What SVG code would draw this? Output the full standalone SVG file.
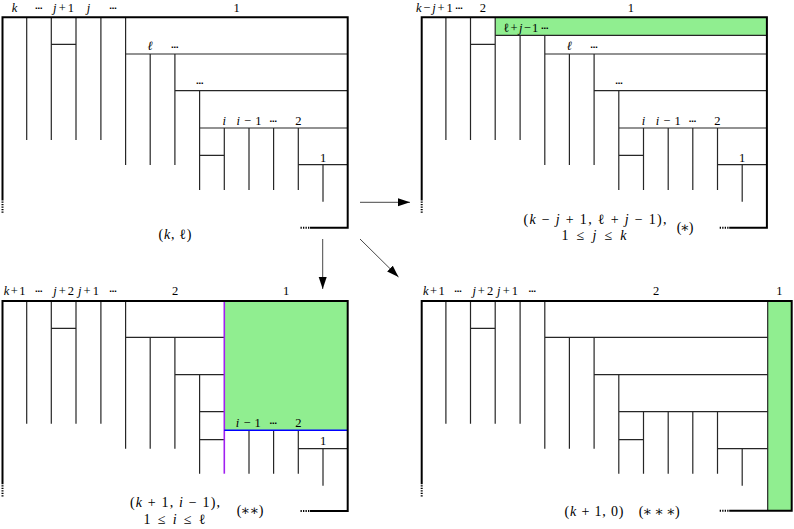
<svg xmlns="http://www.w3.org/2000/svg" width="794" height="529" viewBox="0 0 794 529">
<defs>
<style>
.thick{fill:none;stroke:#000;stroke-width:2;stroke-linejoin:miter}
.thin{fill:none;stroke:#262626;stroke-width:1.2}
.dot{fill:none;stroke:#000;stroke-width:2;stroke-dasharray:1.3 1.2}
.green{fill:#90ee90;stroke:none}
.t{font-family:"Liberation Serif","DejaVu Serif",serif;font-size:12.5px;text-anchor:middle;fill:#000}
.c{font-family:"Liberation Serif","DejaVu Serif",serif;font-size:14px;text-anchor:middle;fill:#000}
.i{font-style:italic}
.d{font-family:"DejaVu Sans",sans-serif;font-weight:bold;font-size:8px;text-anchor:middle;fill:#000}
.arr{fill:none;stroke:#333;stroke-width:0.9}
</style>
<marker id="ah" markerUnits="userSpaceOnUse" markerWidth="13" markerHeight="9" refX="12" refY="4" orient="auto">
<path d="M0,0 L12,4 L0,8 z" fill="#000"/>
</marker>
</defs>
<rect width="794" height="529" fill="#fff"/>

<g id="node-k-l">
<path class="thin" d="M26.7,17.3V140 M51.3,17.3V140 M76,17.3V140 M100.9,17.3V140 M51.3,44.3H76 M125.6,17.3V165 M125.6,54H347.7 M150.2,54V165 M174.9,54V165 M174.9,90.7H347.7 M199.6,90.7V190 M199.6,128H347.7 M224.3,128V190 M249,128V190 M273.6,128V190 M298.3,128V190 M199.6,155.3H224.3 M298.3,164.7H347.7 M323,164.7V201.7"/>
<path class="thick" d="M2.5,200.5V17.3H347.7V227.7H310"/>
<path class="dot" d="M2.5,201.5V213 M300.5,227.7H310"/>
<text class="t i" x="14.6" y="11.7">k</text>
<text class="d" x="39" y="10.7">⋯</text>
<text class="t" x="63.6" y="11.7" textLength="21" lengthAdjust="spacing"><tspan class="i">j</tspan>+1</text>
<text class="t i" x="88.4" y="11.7">j</text>
<text class="d" x="113.2" y="10.7">⋯</text>
<text class="t" x="236.6" y="11.7">1</text>
<text class="t i" x="150.2" y="50">ℓ</text>
<text class="d" x="175" y="49.5">⋯</text>
<text class="d" x="200" y="86">⋯</text>
<text class="t i" x="224.3" y="125">i</text>
<text class="t" x="249" y="125" textLength="25" lengthAdjust="spacing"><tspan class="i">i</tspan>−1</text>
<text class="d" x="273.6" y="124">⋯</text>
<text class="t" x="298.3" y="125">2</text>
<text class="t" x="323" y="161.7">1</text>
<text class="c" x="175" y="238.5" textLength="33" lengthAdjust="spacing">(<tspan class="i">k</tspan>, ℓ)</text>
</g>

<g id="node-star" transform="translate(419.2,0)">
<rect class="green" x="76" y="17.3" width="271.7" height="18"/>
<path class="thin" d="M76,35.3H347.7 M26.7,17.3V140 M51.3,17.3V140 M76,17.3V140 M100.9,35.3V140 M51.3,44.3H76 M125.6,35.3V165 M125.6,54H347.7 M150.2,54V165 M174.9,54V165 M174.9,90.7H347.7 M199.6,90.7V190 M199.6,128H347.7 M224.3,128V190 M249,128V190 M273.6,128V190 M298.3,128V190 M199.6,155.3H224.3 M298.3,164.7H347.7 M323,164.7V201.7"/>
<path class="thick" d="M2.5,200.5V17.3H347.7V227.7H310"/>
<path class="dot" d="M2.5,201.5V213 M300.5,227.7H310"/>
<text class="t" x="15.1" y="11.7" textLength="36.7" lengthAdjust="spacing"><tspan class="i">k</tspan>−<tspan class="i">j</tspan>+1</text>
<text class="d" x="40.1" y="10.7">⋯</text>
<text class="t" x="63.6" y="11.7">2</text>
<text class="t" x="211.8" y="11.7">1</text>
<text class="t" x="101.6" y="31.5" textLength="35" lengthAdjust="spacing">ℓ+<tspan class="i">j</tspan>−1</text>
<text class="d" x="125.8" y="30.5">⋯</text>
<text class="t i" x="150.2" y="50">ℓ</text>
<text class="d" x="175" y="49.5">⋯</text>
<text class="d" x="200" y="86">⋯</text>
<text class="t i" x="224.3" y="125">i</text>
<text class="t" x="249" y="125" textLength="25" lengthAdjust="spacing"><tspan class="i">i</tspan>−1</text>
<text class="d" x="273.6" y="124">⋯</text>
<text class="t" x="298.3" y="125">2</text>
<text class="t" x="323" y="161.7">1</text>
<text class="c" x="175.8" y="224" textLength="143" lengthAdjust="spacing">(<tspan class="i">k</tspan> − <tspan class="i">j</tspan> + 1, ℓ + <tspan class="i">j</tspan> − 1),</text>
<text class="c" x="174.8" y="240" textLength="65" lengthAdjust="spacing">1 ≤ <tspan class="i">j</tspan> ≤ <tspan class="i">k</tspan></text>
<text class="c" x="265.8" y="232" textLength="16.7" lengthAdjust="spacing">(∗)</text>
</g>

<g id="node-2star" transform="translate(0,283.7)">
<rect class="green" x="224.3" y="17.3" width="123.4" height="129.3"/>
<path class="thin" d="M26.7,17.3V140 M51.3,17.3V140 M76,17.3V140 M100.9,17.3V140 M51.3,44.6H76 M125.6,17.3V165 M125.6,53.6H224.3 M150.2,53.6V165 M174.9,53.6V165 M174.9,91H224.3 M199.6,91V190 M199.6,128H224.3 M199.6,156H224.3 M249,146.6V190 M273.6,146.6V190 M298.3,146.6V190 M298.3,165H347.7 M323,165V202"/>
<path fill="none" stroke="#a020f0" stroke-width="1.6" d="M224.3,17.3V190"/>
<path fill="none" stroke="#0000ff" stroke-width="1.6" d="M224.3,146.6H347.7"/>
<path class="thick" d="M2.5,200.5V17.3H347.7V227.3H310"/>
<path class="dot" d="M2.5,201.5V213 M300.5,227.3H310"/>
<text class="t" x="14.6" y="11.6" textLength="21.7" lengthAdjust="spacing"><tspan class="i">k</tspan>+1</text>
<text class="d" x="39" y="10.6">⋯</text>
<text class="t" x="63.6" y="11.6" textLength="20.7" lengthAdjust="spacing"><tspan class="i">j</tspan>+2</text>
<text class="t" x="88.4" y="11.6" textLength="21" lengthAdjust="spacing"><tspan class="i">j</tspan>+1</text>
<text class="d" x="113.2" y="10.6">⋯</text>
<text class="t" x="175" y="11.6">2</text>
<text class="t" x="286" y="11.6">1</text>
<text class="t" x="248.3" y="143" textLength="25" lengthAdjust="spacing"><tspan class="i">i</tspan>−1</text>
<text class="d" x="273.6" y="142">⋯</text>
<text class="t" x="298.3" y="143">2</text>
<text class="t" x="323" y="161.3">1</text>
<text class="c" x="175" y="223.3" textLength="90" lengthAdjust="spacing">(<tspan class="i">k</tspan> + 1, <tspan class="i">i</tspan> − 1),</text>
<text class="c" x="174.5" y="240.3" textLength="62" lengthAdjust="spacing">1 ≤ <tspan class="i">i</tspan> ≤ ℓ</text>
<text class="c" x="250" y="231.3" textLength="26.7" lengthAdjust="spacing">(∗∗)</text>
</g>

<g id="node-3star" transform="translate(419.2,283.7)">
<rect class="green" x="348.5" y="17.3" width="24" height="209.7"/>
<path class="thin" d="M26.7,17.3V140 M51.3,17.3V140 M76,17.3V140 M100.9,17.3V140 M51.3,44.6H76 M125.6,17.3V165 M125.6,53.6H348.5 M150.2,53.6V165 M174.9,53.6V165 M174.9,91H348.5 M199.6,91V190 M199.6,128H348.5 M224.3,128V190 M249,128V190 M273.6,128V190 M298.3,128V190 M199.6,156H224.3 M298.3,165H348.5 M323,165V202 M348.5,17.3V227"/>
<path class="thick" d="M2.5,200.5V17.3H372.5V227H310"/>
<path class="dot" d="M2.5,201.5V213 M300.5,227H310"/>
<text class="t" x="14.6" y="11.6" textLength="21.7" lengthAdjust="spacing"><tspan class="i">k</tspan>+1</text>
<text class="d" x="39" y="10.6">⋯</text>
<text class="t" x="63.6" y="11.6" textLength="20.7" lengthAdjust="spacing"><tspan class="i">j</tspan>+2</text>
<text class="t" x="88.4" y="11.6" textLength="21" lengthAdjust="spacing"><tspan class="i">j</tspan>+1</text>
<text class="d" x="113.2" y="10.6">⋯</text>
<text class="t" x="237" y="11.6">2</text>
<text class="t" x="360.3" y="11.6">1</text>
<text class="c" x="174.8" y="232.3" textLength="59" lengthAdjust="spacing">(<tspan class="i">k</tspan> + 1, 0)</text>
<text class="c" x="240.1" y="232.3" textLength="41" lengthAdjust="spacing">(∗ ∗ ∗)</text>
</g>

<g id="connectors">
<path class="arr" marker-end="url(#ah)" d="M360,202.3H410"/>
<path class="arr" marker-end="url(#ah)" d="M322.7,239V289"/>
<path class="arr" marker-end="url(#ah)" d="M360,239L398.5,277"/>
</g>
</svg>
